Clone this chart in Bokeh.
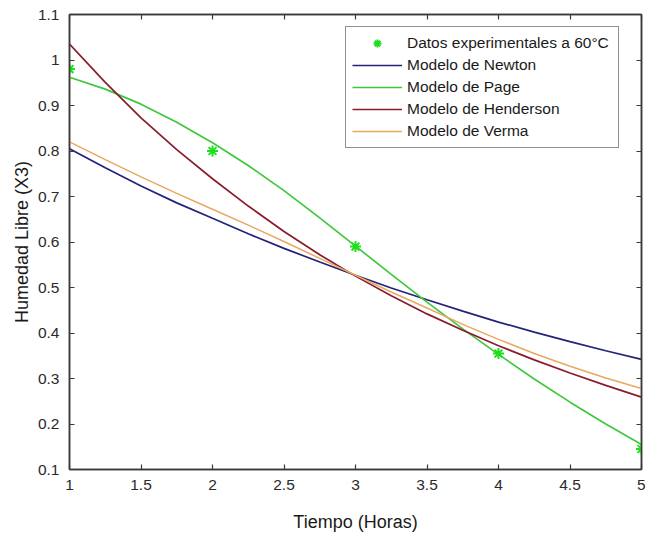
from bokeh.plotting import figure
from bokeh.models import LinearAxis, FixedTicker, Range1d, Legend, LegendItem
from bokeh.embed import file_html
from bokeh.resources import INLINE

# Data
t_data = [1, 2, 3, 4, 5]
y_data = [0.98, 0.80, 0.59, 0.355, 0.145]

t_model = [1, 1.25, 1.5, 1.75, 2, 2.25, 2.5, 2.75, 3, 3.25, 3.5, 3.75, 4, 4.25, 4.5, 4.75, 5]
newton = [0.805, 0.763, 0.723, 0.686, 0.652, 0.618, 0.586, 0.556, 0.527, 0.499, 0.473, 0.448, 0.424, 0.402, 0.381, 0.361, 0.342]
page = [0.962, 0.936, 0.903, 0.863, 0.818, 0.768, 0.713, 0.653, 0.591, 0.529, 0.468, 0.409, 0.353, 0.299, 0.248, 0.200, 0.155]
henderson = [1.035, 0.951, 0.873, 0.803, 0.739, 0.679, 0.623, 0.572, 0.525, 0.482, 0.442, 0.406, 0.372, 0.341, 0.312, 0.285, 0.259]
verma = [0.820, 0.781, 0.743, 0.707, 0.672, 0.637, 0.601, 0.564, 0.527, 0.490, 0.455, 0.419, 0.386, 0.355, 0.327, 0.301, 0.278]

x_ticks = [1, 1.5, 2, 2.5, 3, 3.5, 4, 4.5, 5]
x_tick_labels = ["1", "1.5", "2", "2.5", "3", "3.5", "4", "4.5", "5"]
y_ticks = [0.1, 0.2, 0.3, 0.4, 0.5, 0.6, 0.7, 0.8, 0.9, 1.0, 1.1]
y_tick_labels = ["0.1", "0.2", "0.3", "0.4", "0.5", "0.6", "0.7", "0.8", "0.9", "1", "1.1"]

labels = ["Datos experimentales a 60°C", "Modelo de Newton", "Modelo de Page",
          "Modelo de Henderson", "Modelo de Verma"]
colors = {"newton": "#24237a", "page": "#3ec83e", "henderson": "#8a1c2c", "verma": "#e8a860", "data": "#1de01d"}

FONT = "Liberation Sans"
AX = "#3a3a3a"

p = figure(width=645, height=535, output_backend="svg", toolbar_location=None,
           x_range=Range1d(1, 5), y_range=Range1d(0.1, 1.1),
           min_border_left=69, min_border_right=4, min_border_top=14, min_border_bottom=66)
p.xgrid.visible = False
p.ygrid.visible = False
p.outline_line_color = AX
p.outline_line_width = 1.5
p.background_fill_color = "white"
p.border_fill_color = "white"

r_newton = p.line(t_model, newton, line_color=colors["newton"], line_width=1.7)
r_page = p.line(t_model, page, line_color=colors["page"], line_width=1.7)
r_hend = p.line(t_model, henderson, line_color=colors["henderson"], line_width=1.7)
r_verma = p.line(t_model, verma, line_color=colors["verma"], line_width=1.5)
r_data = p.scatter(t_data, y_data, marker="asterisk", size=11, line_color=colors["data"], line_width=2)

def style_axis(ax, ticks, overrides, show_labels=True):
    ax.ticker = FixedTicker(ticks=ticks)
    ax.major_label_overrides = {tk: lb for tk, lb in zip(ticks, overrides)}
    ax.minor_tick_line_color = None
    ax.major_tick_in = 5
    ax.major_tick_out = 0
    ax.axis_line_color = AX
    ax.axis_line_width = 1.5
    ax.major_tick_line_color = AX
    ax.major_tick_line_width = 1.2
    ax.major_label_text_font = FONT
    ax.major_label_text_color = "#2a2a2a"
    ax.major_label_text_font_size = "15.5px" if show_labels else "0px"
    ax.major_label_standoff = 8 if show_labels else 0
    ax.axis_label_text_font = FONT
    ax.axis_label_text_font_size = "18px"
    ax.axis_label_text_font_style = "normal"
    ax.axis_label_text_color = "#1a1a1a"

style_axis(p.xaxis[0], x_ticks, x_tick_labels)
style_axis(p.yaxis[0], y_ticks, y_tick_labels)
p.xaxis[0].axis_label = "Tiempo (Horas)"
p.yaxis[0].axis_label = "Humedad Libre (X3)"
p.xaxis[0].major_label_standoff = 10
p.yaxis[0].major_label_standoff = 10
p.xaxis[0].axis_label_standoff = 19
p.yaxis[0].axis_label_standoff = 3

top_ax = LinearAxis()
right_ax = LinearAxis()
style_axis(top_ax, x_ticks, [""] * len(x_ticks), show_labels=False)
style_axis(right_ax, y_ticks, [""] * len(y_ticks), show_labels=False)
p.add_layout(top_ax, "above")
p.add_layout(right_ax, "right")

legend = Legend(items=[
    LegendItem(label=labels[0], renderers=[r_data]),
    LegendItem(label=labels[1], renderers=[r_newton]),
    LegendItem(label=labels[2], renderers=[r_page]),
    LegendItem(label=labels[3], renderers=[r_hend]),
    LegendItem(label=labels[4], renderers=[r_verma]),
], location=(276, 321))
legend.label_text_font = FONT
legend.label_text_font_size = "15.5px"
legend.label_text_color = "#1a1a1a"
legend.glyph_width = 50
legend.glyph_height = 20
legend.label_height = 20
legend.label_width = 205
legend.label_standoff = 5
legend.spacing = 2
legend.padding = 6
legend.margin = 0
legend.border_line_color = "#222222"
legend.border_line_width = 1.3
legend.background_fill_color = "white"
legend.background_fill_alpha = 1.0
p.add_layout(legend, "center")

open("out.html", "w").write(file_html(p, INLINE))
